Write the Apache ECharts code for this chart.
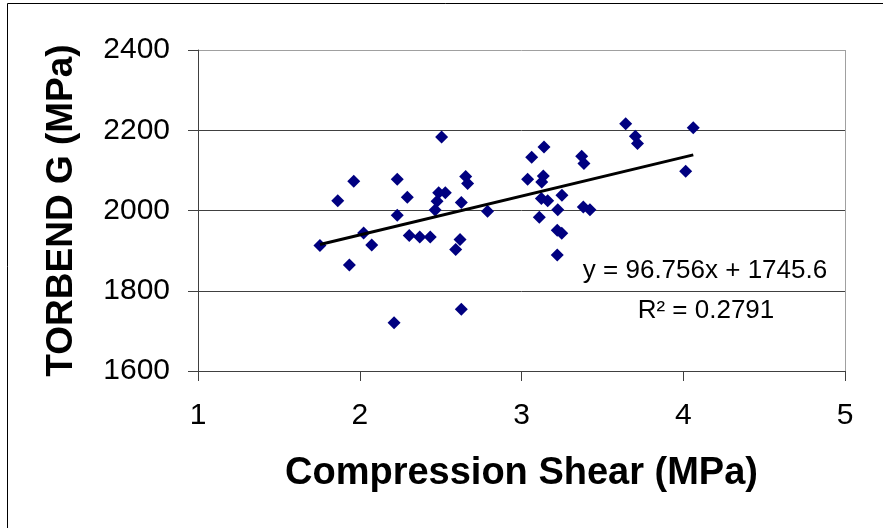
<!DOCTYPE html>
<html>
<head>
<meta charset="utf-8">
<script src="https://cdn.jsdelivr.net/npm/echarts@6/dist/echarts.min.js"></script>
<style>
html,body{margin:0;padding:0;background:#fff;}
#chart{width:883px;height:528px;}
</style>
</head>
<body>
<div id="chart"></div>
<script>
// Data
const compressionShear = [1.754, 1.864, 1.963, 1.936, 2.024, 2.074, 2.212, 2.232, 2.232, 2.294, 2.306, 2.371, 2.436, 2.466, 2.478, 2.488, 2.506, 2.529, 2.593, 2.620, 2.628, 2.628, 2.655, 2.667, 2.790, 3.038, 3.063, 3.110, 3.123, 3.125, 3.135, 3.139, 3.162, 3.221, 3.221, 3.224, 3.249, 3.250, 3.372, 3.382, 3.386, 3.423, 3.644, 3.704, 3.717, 4.015, 4.062];
const torbendG = [1913, 2024, 2073, 1864, 1944, 1914, 1720, 2078, 1988, 2033, 1938, 1934, 1934, 2001, 2023, 2044, 2183, 2044, 1903, 1928, 2020, 1754, 2085, 2067, 1998, 2078, 2133, 1983, 2030, 2071, 2086, 2158, 2024, 1951, 1889, 2002, 1943, 2038, 2135, 2009, 2117, 2002, 2216, 2185, 2167, 2098, 2206];
const trendX = [1.754, 4.062];
const trendY = [1915.3, 2138.6];
const xTicks = [1, 2, 3, 4, 5];
const yTicks = [1600, 1800, 2000, 2200, 2400];
const equationText = 'y = 96.756x + 1745.6';
const r2Text = 'R\u00B2 = 0.2791';
const xTitle = 'Compression Shear (MPa)';
const yTitle = 'TORBEND G (MPa)';

const FONT = 'Arial, "Liberation Sans", sans-serif';
const chart = echarts.init(document.getElementById('chart'), null, {renderer: 'canvas'});
const scatterData = compressionShear.map((x, i) => [x, torbendG[i]]);
const trendData = trendX.map((x, i) => [x, trendY[i]]);

chart.setOption({
  animation: false,
  backgroundColor: '#ffffff',
  grid: {left: 198, top: 50, width: 647, height: 321, containLabel: false},
  xAxis: {
    type: 'value',
    min: xTicks[0], max: xTicks[xTicks.length - 1], interval: 1,
    name: xTitle,
    nameLocation: 'middle',
    nameGap: 84,
    nameTextStyle: {fontFamily: FONT, fontSize: 38, fontWeight: 'bold', color: '#000'},
    axisLine: {show: true, lineStyle: {color: '#404040', width: 1}},
    axisTick: {show: true, inside: false, length: 10, lineStyle: {color: '#404040'}},
    axisLabel: {fontFamily: FONT, fontSize: 30, color: '#000', margin: 30, formatter: v => String(v)},
    splitLine: {show: true, lineStyle: {color: ['rgba(0,0,0,0)', 'rgba(0,0,0,0)', 'rgba(0,0,0,0)', 'rgba(0,0,0,0)', '#a0a0a0'], width: 1}}
  },
  yAxis: {
    type: 'value',
    min: yTicks[0], max: yTicks[yTicks.length - 1], interval: 200,
    name: yTitle,
    nameLocation: 'middle',
    nameGap: 118,
    nameTextStyle: {fontFamily: FONT, fontSize: 37, fontWeight: 'bold', color: '#000'},
    axisLine: {show: true, lineStyle: {color: '#404040', width: 1}},
    axisTick: {show: true, inside: false, length: 10, lineStyle: {color: '#404040'}},
    axisLabel: {fontFamily: FONT, fontSize: 30, color: '#000', margin: 28, formatter: v => String(v)},
    splitLine: {show: true, lineStyle: {color: ['#404040', '#404040', '#404040', '#404040', '#a0a0a0'], width: 1}}
  },
  series: [
    {
      type: 'scatter',
      data: scatterData,
      symbol: 'diamond',
      symbolSize: 13,
      itemStyle: {color: '#000080', opacity: 1},
      z: 3
    },
    {
      type: 'line',
      data: trendData,
      symbol: 'none',
      lineStyle: {color: '#000', width: 3},
      z: 4
    }
  ],
  graphic: [
    {type: 'rect', shape: {x: 7.5, y: 3.5, width: 1000, height: 1000}, style: {fill: 'none', stroke: '#000', lineWidth: 1}, silent: true},
    {type: 'text', x: 705, y: 271, style: {text: equationText, font: '26px ' + FONT, fill: '#000', align: 'center', verticalAlign: 'middle'}},
    {type: 'text', x: 706, y: 311, style: {text: r2Text, font: '26px ' + FONT, fill: '#000', align: 'center', verticalAlign: 'middle'}}
  ]
});
</script>
</body>
</html>
